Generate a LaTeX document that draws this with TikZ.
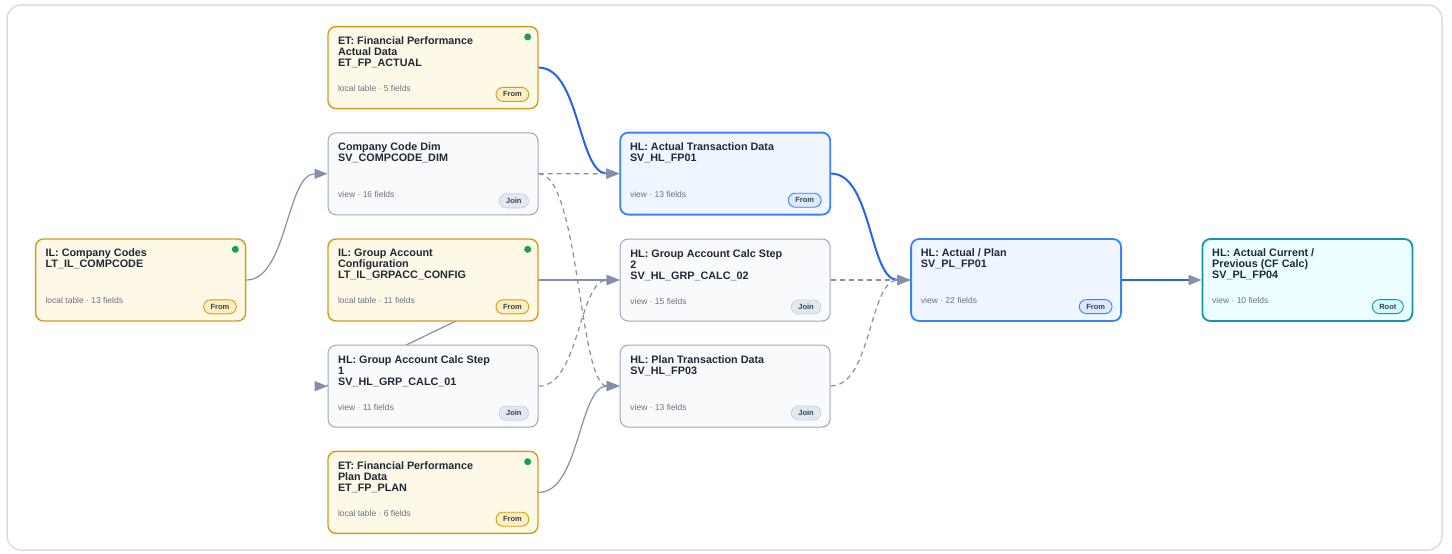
\documentclass[tikz,border=0pt]{standalone}
\usepackage{fontspec}
\setmainfont{Liberation Sans}
\usepackage{tikz}
\usetikzlibrary{arrows.meta,backgrounds,positioning}
\tikzset{every picture/.style={
  >={Triangle[length=13pt,width=10pt,color=edgegray]}   % Closed grey heads.
  }
}

\definecolor{ink}{HTML}{1F2937}
\definecolor{muted}{HTML}{6B7280}
\definecolor{badgeink}{HTML}{374151}
\definecolor{ltfill}{HTML}{FEF9E6}
\definecolor{ltdraw}{HTML}{D49C1C}
\definecolor{ltbadge}{HTML}{FDEEC0}
\definecolor{vwfill}{HTML}{F8FAFC}
\definecolor{vwdraw}{HTML}{9CA9BC}
\definecolor{vwbadge}{HTML}{E2E8F0}
\definecolor{vwbadgedraw}{HTML}{CBD5E1}
\definecolor{hlfill}{HTML}{EFF6FF}
\definecolor{hldraw}{HTML}{3B82F6}
\definecolor{hlbadge}{HTML}{DBEAFE}
\definecolor{rtfill}{HTML}{ECFEFF}
\definecolor{rtdraw}{HTML}{1394A8}
\definecolor{rtbadge}{HTML}{CFFAFE}
\definecolor{dotgreen}{HTML}{16A34A}
\definecolor{edgegray}{HTML}{8390A8}
\definecolor{flowblue}{HTML}{2563EB}
\definecolor{framegray}{HTML}{D9DDE3}

% One card: type, name, placement, title, meta line, badge.
\newcommand{\card}[6]{%
  \node[#1 card,#3] (#2) {};
  \node[title] (#2-t) at ([xshift=10.5pt,yshift=-10.5pt]#2.north west) {#4};
  \node[meta] (#2-m) at ([xshift=10.5pt,yshift=-65.5pt]#2.north west) {#5};
  \node[badge,#1 badge] (#2-b) at ([xshift=-9.5pt,yshift=-68.5pt]#2.north east) {#6};
}

\begin{document}
\begin{tikzpicture}[
    x=1pt,y=-1pt,
    card/.style={
      rectangle,
      rounded corners=8pt,
      minimum width=210pt,
      minimum height=82pt,
      inner sep=0pt
    },
    lt card/.style={card,draw=ltdraw,fill=ltfill,line width=1.4pt},
    vw card/.style={card,draw=vwdraw,fill=vwfill,line width=1pt},
    hl card/.style={card,draw=hldraw,fill=hlfill,line width=1.8pt},
    rt card/.style={card,draw=rtdraw,fill=rtfill,line width=1.8pt},
    title/.style={
      anchor=north west,
      inner sep=0pt,
      align=left,
      text=ink,
      font=\fontsize{10.8}{11}\selectfont\bfseries
    },
    meta/.style={
      anchor=base west,
      inner sep=0pt,
      text=muted,
      font=\fontsize{8.5}{10}\selectfont
    },
    badge/.style={
      anchor=east,
      rounded corners=7pt,
      minimum height=14pt,
      inner xsep=7pt,
      inner ysep=0pt,
      line width=0.9pt,
      text=badgeink,
      font=\fontsize{7.5}{9}\selectfont\bfseries
    },
    lt badge/.style={draw=ltdraw,fill=ltbadge},
    vw badge/.style={draw=vwbadgedraw,fill=vwbadge},
    hl badge/.style={draw=hldraw,fill=hlbadge},
    rt badge/.style={draw=rtdraw,fill=rtbadge},
    dot/.style={circle,fill=dotgreen,inner sep=0pt,minimum size=7pt},
    link/.style={->,draw=edgegray,line width=1.2pt},
    dash link/.style={link,dash pattern=on 5pt off 4pt},
    blue link/.style={->,draw=flowblue,line width=2pt},
    frame/.style={draw=framegray,line width=1.5pt,rounded corners=14pt}
  ]

  \useasboundingbox (0,0) rectangle (1452,554);
  \draw[frame] (7,5) rectangle (1442,550);

  % Middle column, stacked round the config table.
  \card{lt}{grpcfg}{at={(433,280)}}
    {IL: Group Account\\Configuration\\LT\_IL\_GRPACC\_CONFIG}
    {local table · 11 fields}{From}
  \card{vw}{ccdim}{above=23pt of grpcfg}
    {Company Code Dim\\SV\_COMPCODE\_DIM}{view · 16 fields}{Join}
  \card{lt}{etact}{above=23pt of ccdim}
    {ET: Financial Performance\\Actual Data\\ET\_FP\_ACTUAL}
    {local table · 5 fields}{From}
  \card{vw}{step1}{below=23pt of grpcfg}
    {HL: Group Account Calc Step\\1\\SV\_HL\_GRP\_CALC\_01}
    {view · 11 fields}{Join}
  \card{lt}{etplan}{below=23pt of step1}
    {ET: Financial Performance\\Plan Data\\ET\_FP\_PLAN}
    {local table · 6 fields}{From}

  % Source on the far left.
  \card{lt}{cc}{left=81pt of grpcfg}
    {IL: Company Codes\\LT\_IL\_COMPCODE}{local table · 13 fields}{From}

  % Third column.
  \card{vw}{step2}{right=81pt of grpcfg}
    {HL: Group Account Calc Step\\2\\SV\_HL\_GRP\_CALC\_02}
    {view · 15 fields}{Join}
  \card{hl}{acttx}{above=23pt of step2}
    {HL: Actual Transaction Data\\SV\_HL\_FP01}{view · 13 fields}{From}
  \card{vw}{plantx}{below=23pt of step2}
    {HL: Plan Transaction Data\\SV\_HL\_FP03}{view · 13 fields}{Join}

  % Union and root.
  \card{hl}{actplan}{right=79.5pt of step2}
    {HL: Actual / Plan\\SV\_PL\_FP01}{view · 22 fields}{From}
  \card{rt}{root}{right=79.5pt of actplan}
    {HL: Actual Current /\\Previous (CF Calc)\\SV\_PL\_FP04}
    {view · 10 fields}{Root}

  % Status dots on the loaded tables.
  \foreach \n in {cc,etact,grpcfg,etplan} {
    \node[dot] (\n-d) at ([xshift=-11pt,yshift=-11pt]\n.north east) {};
  }

  % Connectors, kept behind the cards.
  \begin{scope}[on background layer]
    \draw[link] (cc.east) .. controls +(41,0) and +(-41,0) .. (ccdim.west);
    \draw[blue link] (etact.east) .. controls +(41,0) and +(-41,0)
      .. (acttx.west);
    \draw[dash link] (ccdim.east) -- (acttx.west);
    \draw[dash link] (ccdim.east) .. controls +(41,0) and +(-41,0)
      .. (plantx.west);
    \draw[link] (grpcfg.east) -- (step2.west);
    % Back edge runs under the cards; its head sits on the left.
    \draw[link,-] (grpcfg.east) .. controls +(6,0) and +(-12,0)
      .. (step1.west);
    \draw[link] ([xshift=-13pt]step1.west) -- (step1.west);
    \draw[dash link] (step1.east) .. controls +(41,0) and +(-41,0)
      .. (step2.west);
    \draw[link] (etplan.east) .. controls +(41,0) and +(-41,0)
      .. (plantx.west);
    \draw[blue link] (acttx.east) .. controls +(41,0) and +(-41,0)
      .. (actplan.west);
    \draw[dash link] (step2.east) -- (actplan.west);
    \draw[dash link] (plantx.east) .. controls +(41,0) and +(-41,0)
      .. (actplan.west);
    \draw[blue link] (actplan.east) -- (root.west);
  \end{scope}
\end{tikzpicture}
\end{document}
